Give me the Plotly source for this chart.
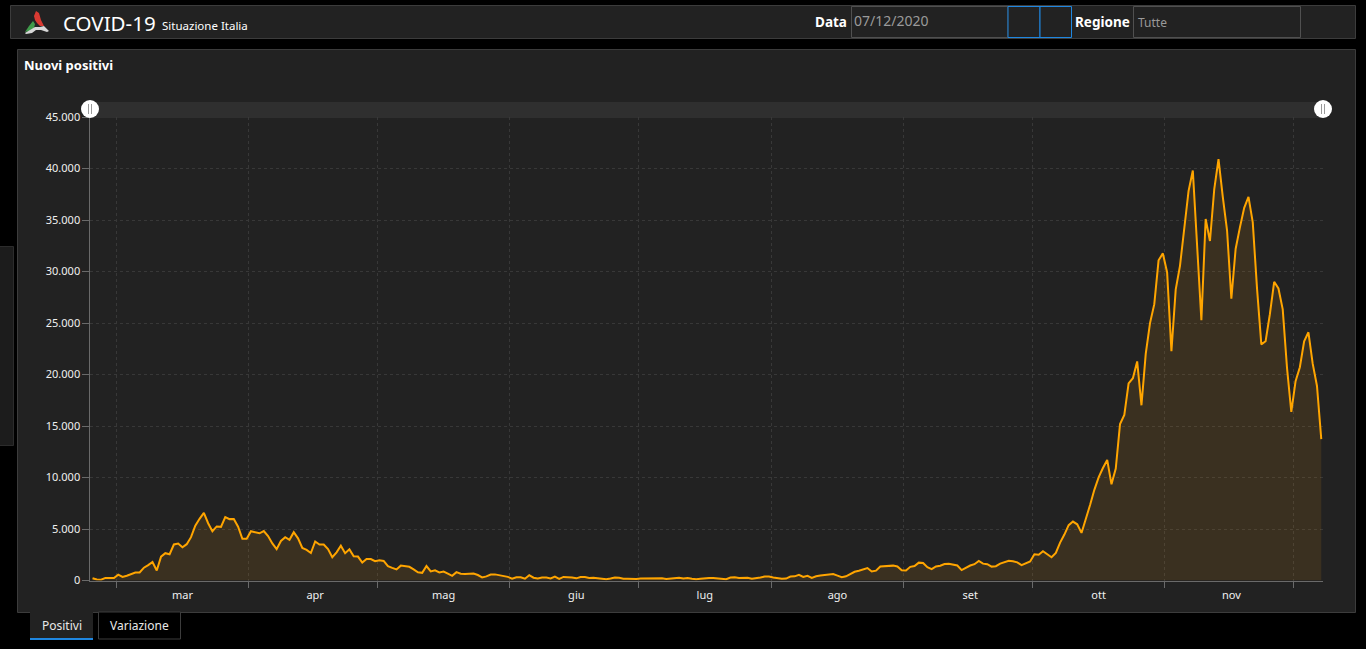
import pandas as pd
import plotly.graph_objects as go

W = 1366
H = 649

# Nuovi positivi, one value per day starting from 24 feb 2020
feb = [221, 93, 78, 250, 238, 240]
mar = [566, 342, 466, 587, 769, 778, 1247, 1492, 1797, 977, 2313, 2651, 2547, 3497, 3590, 3233,
       3526, 4207, 5322, 5986, 6557, 5560, 4789, 5249, 5210, 6153, 5959, 5974, 5217, 4050, 4053]
apr = [4782, 4668, 4585, 4805, 4316, 3599, 3039, 3836, 4204, 3951, 4694, 4092, 3153, 2972, 2667,
       3786, 3493, 3491, 3047, 2256, 2729, 3370, 2646, 3021, 2357, 2324, 1739, 2091, 2086, 1872]
mag = [1965, 1900, 1389, 1221, 1075, 1444, 1401, 1327, 1083, 802, 744, 1402, 888, 992, 789, 875,
       675, 451, 813, 665, 642, 652, 669, 531, 300, 397, 584, 593, 516, 416, 355]
giu = [178, 318, 321, 177, 518, 270, 197, 280, 283, 202, 379, 163, 346, 338, 301, 210, 329, 333,
       251, 262, 224, 218, 122, 190, 296, 259, 175, 174, 126, 142]
lug = [187, 201, 223, 235, 192, 208, 138, 193, 229, 276, 188, 234, 169, 114, 162, 230, 233, 249,
       219, 190, 129, 282, 306, 252, 275, 255, 170, 212, 289, 386, 379]
ago = [295, 239, 159, 190, 384, 401, 552, 347, 463, 259, 412, 481, 523, 574, 629, 479, 320, 403,
       642, 845, 947, 1071, 1210, 878, 953, 1367, 1411, 1462, 1444, 1365, 996]
set_ = [978, 1326, 1397, 1733, 1695, 1297, 1108, 1370, 1434, 1597, 1616, 1501, 1458, 1008, 1229,
        1452, 1585, 1907, 1638, 1587, 1350, 1392, 1640, 1786, 1912, 1869, 1766, 1494, 1648, 1851]
ott = [2548, 2499, 2844, 2578, 2257, 2677, 3678, 4458, 5372, 5724, 5456, 4619, 5901, 7332, 8804,
       10010, 10925, 11705, 9338, 10874, 15199, 16079, 19143, 19644, 21273, 17012, 21994, 24991,
       26831, 31084, 31758]
nov = [29907, 22253, 28244, 30550, 34505, 37809, 39811, 32616, 25271, 35098, 32961, 37978, 40902,
       37255, 33979, 27354, 32191, 34283, 36176, 37242, 34767, 28337, 22930, 23232, 25853, 29003,
       28352, 26323, 20648, 16377]
dic = [19350, 20709, 23225, 24099, 21052, 18887, 13720]
values = feb + mar + apr + mag + giu + lug + ago + set_ + ott + nov + dic

month_labels = ["mar", "apr", "mag", "giu", "lug", "ago", "set", "ott", "nov"]
month_mids = ["2020-03-16 12:00", "2020-04-16 12:00", "2020-05-16 12:00", "2020-06-16 12:00", "2020-07-16 12:00",
              "2020-08-16 12:00", "2020-09-16 12:00", "2020-10-16 12:00", "2020-11-16 12:00"]
month_starts = ["2020-03-01", "2020-04-01", "2020-05-01", "2020-06-01", "2020-07-01",
                "2020-08-01", "2020-09-01", "2020-10-01", "2020-11-01", "2020-12-01"]

days = pd.date_range("2020-02-24 12:00", periods=len(values), freq="D")

FONT = "Noto Sans"
PANEL = "#222222"
BORDER = "#3c3c3c"
GRID = "#383838"
AXIS = "#6a6a6a"


def fx(px):
    return px / W


def fy(py):
    return 1 - py / H


def box(x0, y0, x1, y1, fill=PANEL, line=BORDER, width=1):
    return dict(type="rect", xref="paper", yref="paper", x0=fx(x0), x1=fx(x1), y0=fy(y0), y1=fy(y1),
                fillcolor=fill, line=dict(color=line, width=width), layer="below")


def poly(points, fill):
    d = "M " + " L ".join(f"{fx(x):.5f},{fy(y):.5f}" for x, y in points) + " Z"
    return dict(type="path", xref="paper", yref="paper", path=d, fillcolor=fill, line=dict(width=0), layer="above")


def text(x, y, s, size, color="#ffffff", anchor="left", bold=False):
    return dict(xref="paper", yref="paper", x=fx(x), y=fy(y), text=f"<b>{s}</b>" if bold else s, showarrow=False,
                xanchor=anchor, yanchor="middle", borderpad=0, borderwidth=0,
                font=dict(family=FONT, size=size, color=color))


def handle(cx):
    cy = 109
    shapes = [dict(type="circle", xref="paper", yref="paper", x0=fx(cx - 9), x1=fx(cx + 9), y0=fy(cy + 9), y1=fy(cy - 9),
                   fillcolor="#ffffff", line=dict(width=0), layer="above")]
    for dx in (-1.5, 1.5):
        shapes.append(dict(type="line", xref="paper", yref="paper", x0=fx(cx + dx), x1=fx(cx + dx), y0=fy(cy - 5), y1=fy(cy + 5),
                           line=dict(color="#9a9a9a", width=1), layer="above"))
    return shapes


fig = go.Figure(go.Scatter(
    x=days,
    y=values,
    mode="lines",
    line=dict(color="#ffa500", width=2),
    fill="tozeroy",
    fillcolor="rgba(255,160,16,0.11)",
    hoverinfo="x+y",
))

shapes = [
    box(10.5, 5.5, 1355.5, 38.5),
    box(17.5, 49.5, 1355.5, 612.5),
    box(-1, 246.5, 13.5, 445.5, fill="#1c1c1c", line="#2c2c2c"),
    box(851.5, 6.5, 1008, 37.5, line="#505050"),
    box(1008, 6.5, 1040, 37.5, line="#1f87e0"),
    box(1040, 6.5, 1071.5, 37.5, line="#1f87e0"),
    box(1133.5, 6.5, 1300.5, 37.5, line="#505050"),
    box(30.5, 612, 92.5, 639, line=PANEL),
    box(98.5, 612, 180.5, 639, fill="#000000", line="#3c3c3c"),
    box(30, 638, 93, 640, fill="#1f87e0", line="#1f87e0", width=0),
    box(91, 102, 1323, 118, fill="#2f2f2f", line="#2f2f2f", width=0),
    # logo
    poly([(25, 32), (29, 26), (33, 21), (35, 24), (34, 28), (30, 31)], "#3f9a4a"),
    poly([(34, 16), (36, 11), (39, 13), (41, 20), (44, 26), (40, 26), (37, 23), (35, 20)], "#d93a32"),
    poly([(25, 33), (30, 30), (35, 27), (40, 27), (44, 26), (49, 31), (47, 32), (41, 30), (36, 30), (32, 33), (26, 34)], "#d8d8d8"),
] + handle(90) + handle(1323)

annotations = [
    text(63, 23, "COVID-19", 20.5),
    text(162, 25, "Situazione Italia", 11.5),
    text(847, 22, "Data", 13.5, anchor="right", bold=True),
    text(854, 21, "07/12/2020", 14, color="#9a9a9a"),
    text(1075, 22, "Regione", 13.5, bold=True),
    text(1138, 23, "Tutte", 12, color="#9a9a9a"),
    text(24, 65, "Nuovi positivi", 13, bold=True),
    text(61.5, 625.5, "Positivi", 12, color="#e8e8e8", anchor="center"),
    text(139.5, 625.5, "Variazione", 12, color="#e8e8e8", anchor="center"),
]

fig.update_layout(
    width=W,
    height=H,
    autosize=False,
    margin=dict(l=0, r=0, t=0, b=0, autoexpand=False),
    paper_bgcolor="#000000",
    plot_bgcolor=PANEL,
    separators=",.",
    showlegend=False,
    shapes=shapes,
    annotations=annotations,
    font=dict(family=FONT, color="#f0f0f0", size=11),
    xaxis=dict(
        domain=[fx(90.4), fx(1323.4)],
        type="date",
        range=["2020-02-24", "2020-12-08"],
        tickmode="array",
        tickvals=month_mids,
        ticktext=month_labels,
        ticks="outside",
        ticklen=4,
        tickcolor="rgba(0,0,0,0)",
        showgrid=False,
        showline=True,
        linecolor=AXIS,
        zeroline=False,
        automargin=False,
        tickfont=dict(size=11, color="#f0f0f0"),
        minor=dict(
            tickmode="array",
            tickvals=month_starts,
            ticks="outside",
            ticklen=6,
            tickcolor=AXIS,
            showgrid=True,
            gridcolor=GRID,
            griddash="3px,3px",
            gridwidth=1,
        ),
    ),
    yaxis=dict(
        domain=[fy(580.5), fy(117)],
        range=[0, 45000],
        tickmode="linear",
        tick0=0,
        dtick=5000,
        tickformat=",d",
        ticks="outside",
        ticklen=7,
        tickcolor=AXIS,
        showline=True,
        linecolor=AXIS,
        gridcolor=GRID,
        griddash="3px,3px",
        gridwidth=1,
        zeroline=False,
        automargin=False,
        tickfont=dict(size=11, color="#f0f0f0"),
    ),
)

fig.write_html(
    "out.html",
    config=dict(displayModeBar=False),
    post_script="document.body.style.margin='0';document.body.style.background='#000';document.body.style.overflow='hidden';",
)
